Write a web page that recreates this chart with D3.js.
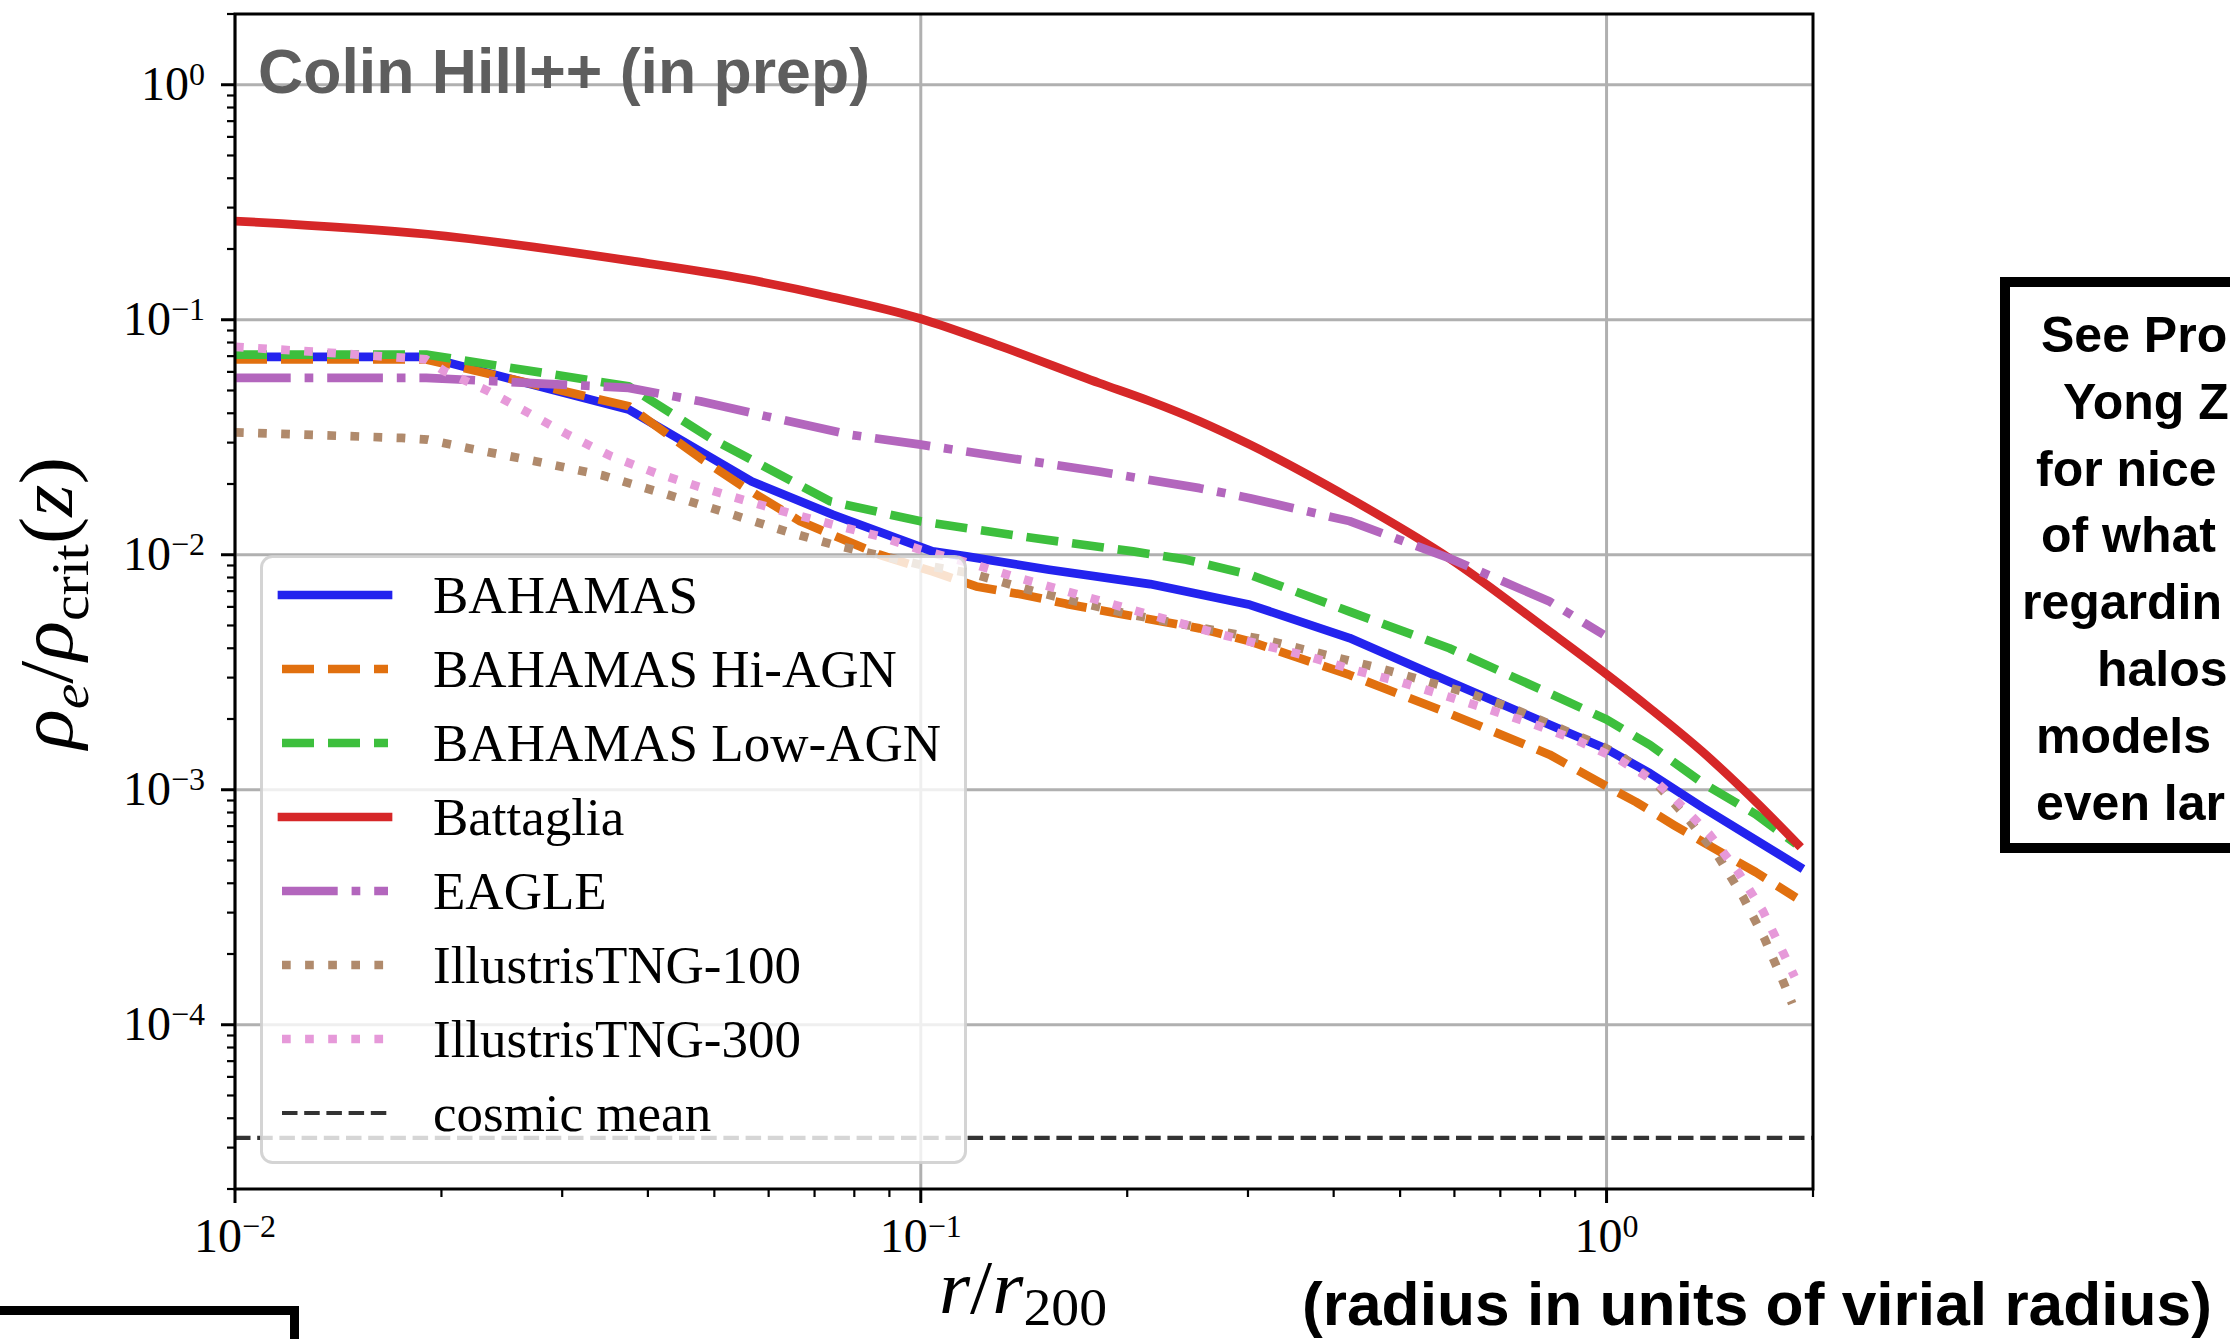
<!DOCTYPE html>
<html><head><meta charset="utf-8">
<script src="https://cdn.jsdelivr.net/npm/d3@7"></script>
<style>html,body{margin:0;padding:0;background:#fff;overflow:hidden}svg{display:block}</style>
</head><body>
<script>
// ---------------- data ----------------
const xMajorTicks = [0.01, 0.1, 1];
const xMajorExp = ["\u22122", "\u22121", "0"];
const yMajorTicks = [1e-4, 1e-3, 1e-2, 1e-1, 1];
const yMajorExp = ["\u22124", "\u22123", "\u22122", "\u22121", "0"];

const seriesNames = ["BAHAMAS", "BAHAMAS Hi-AGN", "BAHAMAS Low-AGN", "Battaglia", "EAGLE",
                     "IllustrisTNG-100", "IllustrisTNG-300", "cosmic mean"];

const BAHAMAS = [[0.01,0.0695],[0.019,0.0695],[0.0375,0.0415],[0.0567,0.0205],[0.0745,0.0148],
  [0.104,0.01033],[0.1166,0.00984],[0.154,0.00863],[0.216,0.0075],[0.302,0.00612],[0.422,0.00442],
  [0.59,0.00288],[0.826,0.00189],[1.0,0.00149],[1.157,0.001175],[1.38,0.000841],[1.65,0.000611],[1.91,0.00047]];

const BAHAMAS_HiAGN = [[0.01,0.0678],[0.019,0.0678],[0.0375,0.0429],[0.0477,0.0258],[0.0551,0.0195],
  [0.0667,0.01387],[0.0762,0.01178],[0.0871,0.0100],[0.104,0.00849],[0.1205,0.00733],[0.141,0.00676],
  [0.163,0.00618],[0.193,0.00564],[0.255,0.00486],[0.302,0.00428],[0.422,0.00308],[0.59,0.00211],
  [0.826,0.00141],[1.0,0.001035],[1.104,0.000887],[1.256,0.000705],[1.38,0.000601],[1.65,0.000446],[1.89,0.000347]];

const BAHAMAS_LowAGN = [[0.01,0.0711],[0.019,0.0711],[0.0375,0.0521],[0.0493,0.0314],[0.0738,0.01687],
  [0.1,0.01387],[0.146,0.01178],[0.204,0.01033],[0.244,0.00953],[0.302,0.00822],[0.422,0.00573],
  [0.59,0.0040],[0.826,0.00257],[1.0,0.00199],[1.157,0.00155],[1.38,0.00107],[1.65,0.000787],[1.89,0.000587]];

const Battaglia = [[0.01,0.263],[0.0191,0.231],[0.0378,0.178],[0.0556,0.149],[0.0735,0.126],[0.1,0.101],
  [0.13,0.0776],[0.182,0.0538],[0.216,0.045],[0.255,0.037],[0.302,0.0294],[0.422,0.0174],[0.59,0.00966],
  [0.826,0.00471],[1.0,0.0031],[1.157,0.00222],[1.38,0.00145],[1.65,0.00089],[1.9,0.000587]];

const EAGLE = [[0.01,0.0566],[0.019,0.0566],[0.0375,0.0513],[0.0477,0.045],[0.0596,0.0388],[0.0789,0.0324],
  [0.1,0.0294],[0.13,0.0262],[0.182,0.0226],[0.255,0.0192],[0.302,0.0174],[0.422,0.0139],[0.59,0.00966],
  [0.826,0.00632],[0.99,0.00457]];

const TNG100 = [[0.01,0.0332],[0.0175,0.0314],[0.0191,0.0309],[0.0219,0.0284],[0.0274,0.025],[0.0343,0.0218],
  [0.0428,0.018],[0.0513,0.0153],[0.0637,0.01256],[0.0745,0.01104],[0.1,0.00906],[0.118,0.00836],
  [0.148,0.00693],[0.202,0.00557],[0.315,0.00437],[0.467,0.00329],[0.631,0.00257],[0.729,0.00222],
  [0.977,0.00155],[1.053,0.001387],[1.185,0.001052],[1.318,0.000746],[1.455,0.00052],[1.58,0.000351],
  [1.70,0.000232],[1.807,0.000154],[1.865,0.000123]];

const TNG300 = [[0.01,0.0767],[0.0138,0.0723],[0.019,0.0678],[0.0202,0.0604],[0.0234,0.0497],[0.0268,0.0401],
  [0.0306,0.0324],[0.0354,0.0262],[0.041,0.0223],[0.0474,0.0195],[0.055,0.01714],[0.0644,0.01503],
  [0.0745,0.01343],[0.0871,0.01197],[0.1,0.0105],[0.118,0.0092],[0.1365,0.00809],[0.16,0.0071],
  [0.1845,0.00632],[0.216,0.00555],[0.27,0.00463],[0.368,0.00369],[0.427,0.00324],[0.499,0.00288],
  [0.577,0.00253],[0.676,0.00219],[0.78,0.00191],[0.903,0.00163],[1.045,0.00134],[1.185,0.00107],
  [1.256,0.000918],[1.41,0.00065],[1.55,0.000454],[1.69,0.000305],[1.81,0.000202],[1.88,0.00016]];

const cosmicMean = 3.3e-5;

const boxLines = ["See Pro", "Yong Z", "for nice", "of what", "regardin", "halos", "models", "even lar"];

// ---------------- styles ----------------
const LW = 8.7;
const colors = ["#2323ee", "#e1700f", "#3dbf3d", "#d62728", "#b366bd", "#b08a6c", "#e699d9", "#333333"];
const dashes = [null, [32,14], [32,14], null, [55.7,13.9,8.7,13.9], [8.7,14.4], [8.7,14.4], [15.5,6.7]];
const widths = [LW, LW, LW, LW, LW, LW, LW, 4.2];

const W = 2230, H = 1339;
const L = 235, R = 1813, T = 14, B = 1189;
const serif = "'Liberation Serif','Times New Roman',serif";
const sans = "'Liberation Sans',Arial,Helvetica,sans-serif";

const svg = d3.select("body").append("svg").attr("width", W).attr("height", H)
  .attr("viewBox", `0 0 ${W} ${H}`);
svg.append("rect").attr("width", W).attr("height", H).attr("fill", "#fff");

const x = d3.scaleLog().domain([0.01, 2]).range([L, R]);
const y = d3.scaleLog().domain([2e-5, 2]).range([B, T]);

svg.append("defs").append("clipPath").attr("id", "plotclip")
  .append("rect").attr("x", L).attr("y", T).attr("width", R - L).attr("height", B - T);

// grid
const grid = svg.append("g");
grid.selectAll("line.gx").data(xMajorTicks).join("line")
  .attr("x1", d => x(d)).attr("x2", d => x(d)).attr("y1", T).attr("y2", B)
  .attr("stroke", "#b0b0b0").attr("stroke-width", 3);
grid.selectAll("line.gy").data(yMajorTicks).join("line")
  .attr("y1", d => y(d)).attr("y2", d => y(d)).attr("x1", L).attr("x2", R)
  .attr("stroke", "#b0b0b0").attr("stroke-width", 3);

// title text in axes
svg.append("text").attr("x", 258).attr("y", 93)
  .attr("font-family", sans).attr("font-weight", "bold").attr("font-size", 63)
  .attr("fill", "#5e5e5e").attr("textLength", 612).attr("lengthAdjust", "spacingAndGlyphs")
  .text("Colin Hill++ (in prep)");

// data lines
const series = [BAHAMAS, BAHAMAS_HiAGN, BAHAMAS_LowAGN, Battaglia, EAGLE, TNG100, TNG300];
const line = d3.line().x(d => x(d[0])).y(d => y(d[1]));
const smooth = d3.line().x(d => x(d[0])).y(d => y(d[1])).curve(d3.curveMonotoneX);
const dataG = svg.append("g").attr("clip-path", "url(#plotclip)");
series.forEach((s, i) => {
  dataG.append("path").attr("d", (i === 3 ? smooth : line)(s))
    .attr("fill", "none").attr("stroke", colors[i]).attr("stroke-width", widths[i])
    .attr("stroke-linejoin", "round")
    .attr("stroke-linecap", dashes[i] ? "butt" : "square")
    .attr("stroke-dasharray", dashes[i] ? dashes[i].join(",") : null);
});
dataG.append("line").attr("x1", L).attr("x2", R).attr("y1", y(cosmicMean)).attr("y2", y(cosmicMean))
  .attr("stroke", colors[7]).attr("stroke-width", widths[7]).attr("stroke-dasharray", dashes[7].join(","));

// spines
svg.append("rect").attr("x", L).attr("y", T).attr("width", R - L).attr("height", B - T)
  .attr("fill", "none").attr("stroke", "#000").attr("stroke-width", 3);

// ticks
const isMajor = v => Math.abs(Math.log10(v) - Math.round(Math.log10(v))) < 1e-9;
const xt = x.ticks(), yt = y.ticks();
const tk = svg.append("g").attr("stroke", "#000");
tk.selectAll("line.xt").data(xt).join("line")
  .attr("x1", d => x(d)).attr("x2", d => x(d)).attr("y1", B).attr("y2", d => B + (isMajor(d) ? 14 : 8))
  .attr("stroke-width", d => isMajor(d) ? 3 : 2.2);
tk.selectAll("line.yt").data(yt).join("line")
  .attr("y1", d => y(d)).attr("y2", d => y(d)).attr("x1", L).attr("x2", d => L - (isMajor(d) ? 14 : 8))
  .attr("stroke-width", d => isMajor(d) ? 3 : 2.2);

// tick labels
const xl = svg.append("g").attr("font-family", serif).attr("font-size", 48).attr("fill", "#000");
xMajorTicks.forEach((v, i) => {
  const t = xl.append("text").attr("x", x(v)).attr("y", 1252).attr("text-anchor", "middle");
  t.append("tspan").text("10");
  t.append("tspan").attr("font-size", 32).attr("dy", -15).text(xMajorExp[i]);
});
const yl = svg.append("g").attr("font-family", serif).attr("font-size", 48).attr("fill", "#000");
yMajorTicks.forEach((v, i) => {
  const t = yl.append("text").attr("x", 205).attr("y", y(v) + 15).attr("text-anchor", "end");
  t.append("tspan").text("10");
  t.append("tspan").attr("font-size", 32).attr("dy", -15).text(yMajorExp[i]);
});

// axis labels
const ylab = svg.append("text").attr("transform", "translate(72,603) rotate(-90)")
  .attr("text-anchor", "middle").attr("font-family", serif).attr("font-size", 76)
  .attr("textLength", 292).attr("lengthAdjust", "spacingAndGlyphs");
ylab.append("tspan").attr("font-style", "italic").text("\u03c1");
ylab.append("tspan").attr("font-style", "italic").attr("font-size", 53).attr("dy", 16).text("e");
ylab.append("tspan").attr("dy", -16).text("/");
ylab.append("tspan").attr("font-style", "italic").text("\u03c1");
ylab.append("tspan").attr("font-size", 53).attr("dy", 16).text("crit");
ylab.append("tspan").attr("dy", -16).text("(");
ylab.append("tspan").attr("font-style", "italic").text("z");
ylab.append("tspan").text(")");

const xlab = svg.append("text").attr("x", 1023).attr("y", 1313)
  .attr("text-anchor", "middle").attr("font-family", serif).attr("font-size", 76)
  .attr("textLength", 168).attr("lengthAdjust", "spacingAndGlyphs");
xlab.append("tspan").attr("font-style", "italic").text("r");
xlab.append("tspan").text("/");
xlab.append("tspan").attr("font-style", "italic").text("r");
xlab.append("tspan").attr("font-size", 53).attr("dy", 12).text("200");

// legend
const lg = svg.append("g");
lg.append("rect").attr("x", 261.5).attr("y", 556.5).attr("width", 704).attr("height", 606)
  .attr("rx", 11).attr("fill", "#fff").attr("fill-opacity", 0.8)
  .attr("stroke", "#cfcfcf").attr("stroke-opacity", 0.9).attr("stroke-width", 3);
seriesNames.forEach((name, i) => {
  const cy = 595 + i * 74;
  lg.append("line").attr("x1", 282).attr("x2", 388).attr("y1", cy).attr("y2", cy)
    .attr("stroke", colors[i]).attr("stroke-width", widths[i])
    .attr("stroke-linecap", dashes[i] ? "butt" : "square")
    .attr("stroke-dasharray", dashes[i] ? dashes[i].join(",") : null);
  lg.append("text").attr("x", 433).attr("y", cy + 18).attr("font-family", serif)
    .attr("font-size", 53).attr("fill", "#000").text(name);
});

// annotations outside axes
svg.append("text").attr("x", 1302).attr("y", 1325).attr("font-family", sans).attr("font-weight", "bold")
  .attr("font-size", 62).attr("fill", "#000").attr("textLength", 910).attr("lengthAdjust", "spacingAndGlyphs")
  .text("(radius in units of virial radius)");

svg.append("rect").attr("x", 2005).attr("y", 282).attr("width", 400).attr("height", 566)
  .attr("fill", "none").attr("stroke", "#000").attr("stroke-width", 10);
const boxX = [2041, 2063, 2036, 2041, 2022, 2097, 2036, 2036];
boxLines.forEach((t, i) => {
  svg.append("text").attr("x", boxX[i]).attr("y", 352 + i * 66.8)
    .attr("font-family", sans).attr("font-weight", "bold").attr("font-size", 50)
    .attr("fill", "#000").text(t);
});

svg.append("rect").attr("x", -20).attr("y", 1310.5).attr("width", 314.5).attr("height", 100)
  .attr("fill", "none").attr("stroke", "#000").attr("stroke-width", 9);
</script>
</body></html>
